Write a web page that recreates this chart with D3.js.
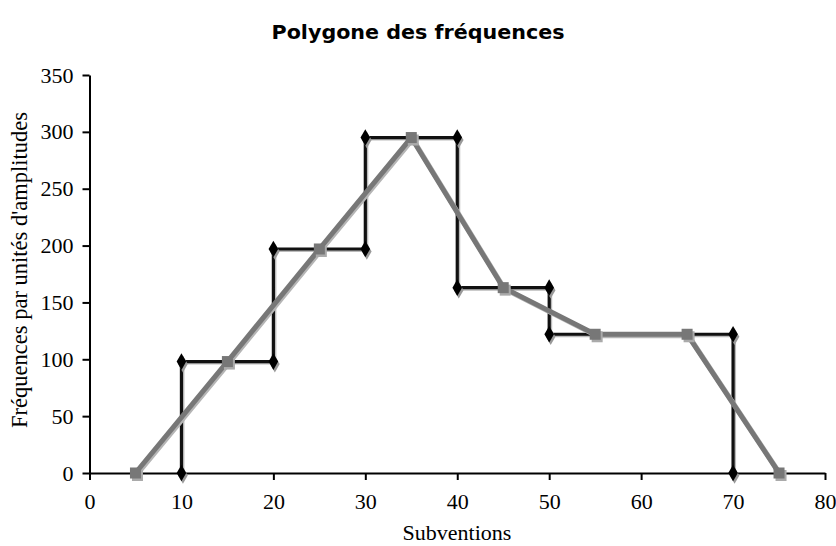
<!DOCTYPE html>
<html><head><meta charset="utf-8">
<script src="https://cdn.jsdelivr.net/npm/d3@7"></script>
<style>body{margin:0;background:#fff}</style>
</head><body>
<svg id="c" width="836" height="546"></svg>
<script>
const histX = [10,10,20,20,30,30,40,40,50,50,70,70];
const histY = [0,98,98,197,197,295,295,163,163,122,122,0];
const polyX = [5,15,25,35,45,55,65,75];
const polyY = [0,98,197,295,163,122,122,0];
const xTicks = [0,10,20,30,40,50,60,70,80];
const yTicks = [0,50,100,150,200,250,300,350];

const svg = d3.select("#c");
const x = d3.scaleLinear().domain([0,80]).range([89.5,825]);
const y = d3.scaleLinear().domain([0,350]).range([473,75]);
const serif = "'Liberation Serif', 'Times New Roman', serif";

svg.append("text").attr("x",418).attr("y",39).attr("text-anchor","middle")
  .style("font-family","'DejaVu Sans', sans-serif").style("font-weight","bold").style("font-size","20px")
  .attr("textLength",293).attr("lengthAdjust","spacingAndGlyphs")
  .text("Polygone des fréquences");

const xa = svg.append("g").attr("transform",`translate(0,${y(0)})`)
  .call(d3.axisBottom(x).tickValues(xTicks).tickSize(7).tickSizeOuter(0).tickPadding(13));
const ya = svg.append("g").attr("transform",`translate(${x(0)},0)`)
  .call(d3.axisLeft(y).tickValues(yTicks).tickSize(7).tickSizeOuter(0).tickPadding(9));
[xa,ya].forEach(a=>{
  a.select(".domain").attr("stroke","#000").attr("stroke-width",2);
  a.selectAll(".tick line").attr("stroke","#000").attr("stroke-width",2);
  a.selectAll("text").style("font-family",serif).style("font-size","22px").attr("fill","#000");
});

svg.append("text").attr("x",457).attr("y",540).attr("text-anchor","middle")
  .style("font-family",serif).style("font-size","22px").text("Subventions");
svg.append("text").attr("transform","translate(27,270) rotate(-90)").attr("text-anchor","middle")
  .style("font-family",serif).style("font-size","22.5px").text("Fréquences par unités d'amplitudes");

const hist = histX.map((v,i)=>[v,histY[i]]);
const poly = polyX.map((v,i)=>[v,polyY[i]]);
const line = d3.line().x(d=>x(d[0])).y(d=>y(d[1]));

// histogram shadow + line
svg.append("path").datum(hist).attr("d",line).attr("fill","none")
  .attr("stroke","#bbb").attr("stroke-width",3).attr("transform","translate(1.5,1.5)");
svg.append("path").datum(hist).attr("d",line).attr("fill","none")
  .attr("stroke","#111").attr("stroke-width",3.2).attr("stroke-linejoin","miter");
const diamond = d3.symbol().type(d3.symbolDiamond).size(80);
svg.append("g").selectAll("path").data(hist).join("path")
  .attr("d",diamond).attr("fill","#999")
  .attr("transform",d=>`translate(${x(d[0])+1.5},${y(d[1])+2.5})`);
svg.append("g").selectAll("path").data(hist).join("path")
  .attr("d",diamond).attr("fill","#000")
  .attr("transform",d=>`translate(${x(d[0])},${y(d[1])})`);

// polygon
svg.append("path").datum(poly).attr("d",line).attr("fill","none")
  .attr("stroke","#b5b5b5").attr("stroke-width",5).attr("transform","translate(1.5,1.5)");
svg.append("path").datum(poly).attr("d",line).attr("fill","none")
  .attr("stroke","#777").attr("stroke-width",5).attr("stroke-linejoin","miter");
svg.append("g").selectAll("rect").data(poly).join("rect")
  .attr("x",d=>x(d[0])-5+1.5).attr("y",d=>y(d[1])-5+2).attr("width",11).attr("height",11).attr("fill","#aaa");
svg.append("g").selectAll("rect").data(poly).join("rect")
  .attr("x",d=>x(d[0])-5.5).attr("y",d=>y(d[1])-5.5).attr("width",11).attr("height",11).attr("fill","#777");
</script>
</body></html>
